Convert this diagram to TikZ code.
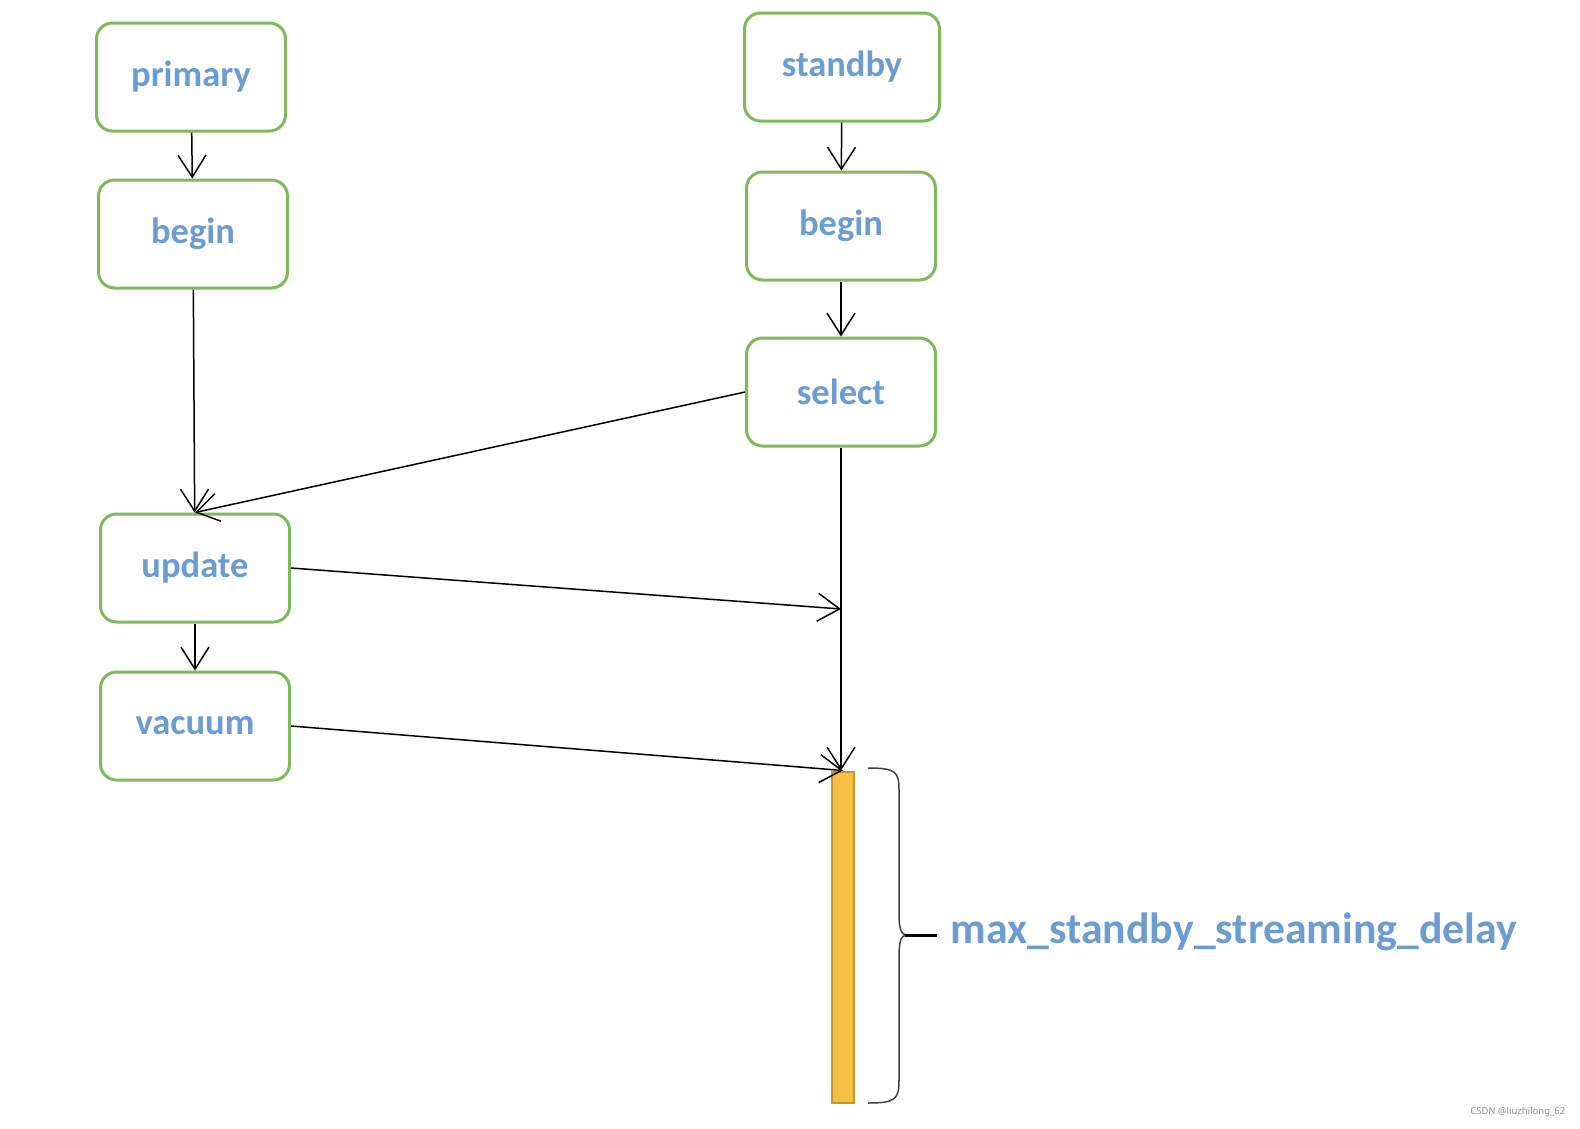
\documentclass[tikz,border=0pt]{standalone}
\usepackage{fontspec}
\setmainfont{Carlito}
\newfontfamily\markfont{Noto Sans}
\usetikzlibrary{arrows.meta,positioning}
\definecolor{boxgreen}{RGB}{128,184,92}
\definecolor{txtblue}{RGB}{108,156,210}
\definecolor{barfill}{RGB}{246,190,66}
\definecolor{bardraw}{RGB}{196,150,44}

\begin{document}
\begin{tikzpicture}[x=1pt,y=-1pt,>={Straight Barb[length=22pt,width=28pt]},line width=1.5pt,
  box/.style={draw=boxgreen,line width=3pt,rounded corners=16pt,fill=white,minimum width=189pt,minimum height=108pt,text=txtblue,font=\fontsize{36.5}{40}\selectfont\bfseries}]
\useasboundingbox (0,0) rectangle (1580,1128);
\node[box] (primary) at (191,77) {primary};
\node[box] (beginL) at (193,234) {begin};
\node[box] (update) at (195,568) {update};
\node[box] (vacuum) at (195,726) {vacuum};
\node[box,minimum width=195pt] (standby) at (842,67) {standby};
\node[box] (beginR) at (841,226) {begin};
\node[box] (select) at (841,392) {select};
\node[draw=bardraw,fill=barfill,line width=2pt,minimum width=22pt,minimum height=331pt,inner sep=0pt] (bar) at (843,937) {};
\coordinate (hit) at (841,609);
\draw[->] (primary) -- (beginL);
\draw[->] (beginL) -- (update);
\draw[->] (select.west) -- (update.north);
\draw[->] (update) -- (vacuum);
\draw[->] (update.east) -- (hit);
\draw[->] (vacuum.east) -- (bar.north);
\draw[->] (standby) -- (beginR);
\draw[->] (beginR) -- (select);
\draw[->] (select.south) -- (select.south |- bar.north);
% brace beside the bar
\draw[line width=1.5pt,black!75] (868,768) .. controls (896,768) and (899,772) .. (899,790) -- (899,912)
  .. controls (899,930) and (901,935) .. (908,935) .. controls (901,935) and (899,940) .. (899,958)
  -- (899,1080) .. controls (899,1099) and (896,1103) .. (868,1103);
\draw[line width=3pt] (905,935) -- (937,935);
\node[anchor=west,text=txtblue,font=\fontsize{43.8}{48}\selectfont\bfseries,inner sep=0pt] (delay) at (950,932) {max\_standby\_streaming\_delay};
\node[anchor=east,text=black!45,font=\markfont\fontsize{9.5}{11}\selectfont,inner sep=0pt] (mark) at (1566,1112) {CSDN @liuzhilong\_62};
\end{tikzpicture}
\end{document}
